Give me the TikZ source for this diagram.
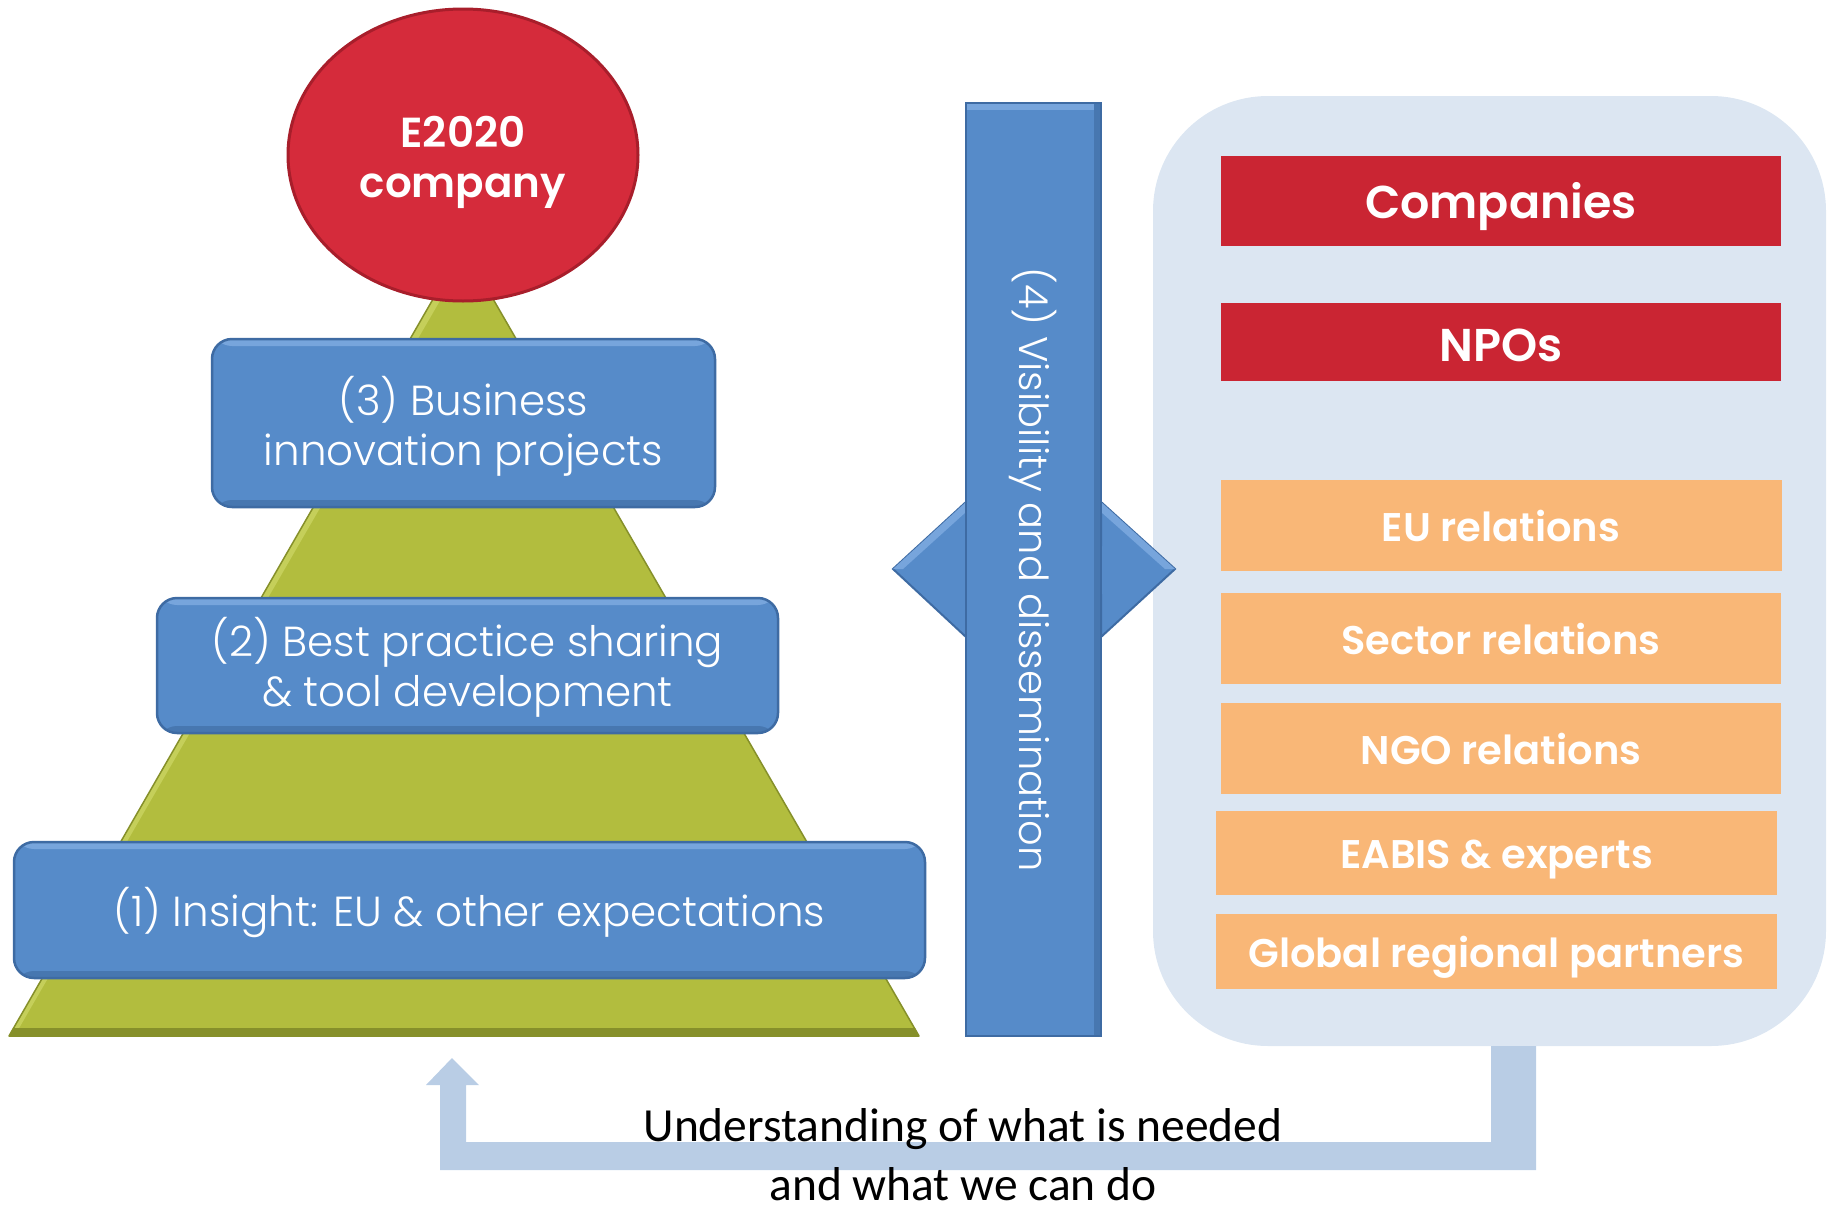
\documentclass[tikz,border=0pt]{standalone}
\usepackage{fontspec}
\setmainfont{Carlito}
\newfontfamily\gothl{Poppins Light}
\newfontfamily\gothb{Poppins}[UprightFont=* SemiBold]
\usetikzlibrary{shapes.geometric}
\definecolor{boxblue}{HTML}{568BC9}
\definecolor{boxblueD}{HTML}{3E6BA3}
\definecolor{boxblueL}{HTML}{77A5DC}
\definecolor{boxblueS}{HTML}{4777B0}
\definecolor{pyrgreen}{HTML}{B2BD3E}
\definecolor{pyrgreenD}{HTML}{86902A}
\definecolor{pyrgreenL}{HTML}{C5CF5A}
\definecolor{ellred}{HTML}{D52B3B}
\definecolor{ellredD}{HTML}{A81E2B}
\definecolor{panelblue}{HTML}{DCE6F2}
\definecolor{darkred}{HTML}{CA2533}
\definecolor{orangebox}{HTML}{F9B777}
\definecolor{arrowblue}{HTML}{B9CDE5}
\tikzset{
  bevel/.style={path picture={
    \fill[boxblueL] (path picture bounding box.north west) rectangle ([yshift=-7pt]path picture bounding box.north east);
    \fill[boxblueS] (path picture bounding box.south west) rectangle ([yshift=7pt]path picture bounding box.south east);}},
  bluebox/.style={rounded corners=20pt, fill=boxblue, draw=boxblueD, line width=2.5pt, bevel, inner sep=0pt},
  bluetext/.style={text=white, align=center, inner sep=0pt, font=\gothl\fontsize{42}{50}\selectfont},
  redbox/.style={fill=darkred, inner sep=0pt},
  redtext/.style={text=white, inner sep=0pt, font=\gothb\fontsize{46}{52}\selectfont},
  orbox/.style={fill=orangebox, inner sep=0pt},
  ortext/.style={text=white, inner sep=0pt, font=\gothb\fontsize{40}{48}\selectfont},
}
\begin{document}
\begin{tikzpicture}[x=1pt,y=-1pt]
\useasboundingbox (0,0) rectangle (1829,1210);
% pyramid
\fill[pyrgreen] (9,1036) -- (463,247) -- (919,1036) -- cycle;
\fill[pyrgreenL] (9,1036) -- (463,247) -- (467,254) -- (18,1030) -- cycle;
\fill[pyrgreenD] (9,1036) -- (919,1036) -- (915,1028) -- (13,1028) -- cycle;
\draw[pyrgreenD, line width=1.5pt, line join=round] (9,1036) -- (463,247) -- (919,1036) -- cycle;
% ellipse
\node[ellipse, fill=ellred, draw=ellredD, line width=3pt, minimum width=350pt, minimum height=292pt, inner sep=0pt] (e2020) at (463,155) {};
\node[text=white, align=center, inner sep=0pt, font=\gothb\fontsize{42}{50}\selectfont] (e2020t) at ([yshift=-7pt]e2020.center) {E2020\\company};
% blue boxes
\node[bluebox, minimum width=503pt, minimum height=168pt] (b3) at (463.5,423) {};
\node[bluetext] (b3t) at ([yshift=-3pt]b3.center) {(3) Business\\innovation projects};
\node[bluebox, minimum width=621pt, minimum height=135pt] (b2) at (467.5,665.5) {};
\node[bluetext] (b2t) at ([yshift=-2pt]b2.center) {(2) Best practice sharing\\\& tool development};
\node[bluebox, minimum width=911pt, minimum height=136pt] (b1) at (469.5,910) {};
\node[bluetext] (b1t) at ([yshift=-3pt]b1.center) {(1) Insight: EU \& other expectations};
% panel
\node[fill=panelblue, rounded corners=115pt, minimum width=673pt, minimum height=950pt, inner sep=0pt] (panel) at (1489.5,571) {};
% double arrow behind bar
\filldraw[fill=boxblue, draw=boxblueD, line width=2pt, line join=miter]
  (893,569) -- (966,502) -- (966,545) -- (1101,545) -- (1101,502) -- (1175,569)
  -- (1101,637) -- (1101,595) -- (966,595) -- (966,637) -- cycle;
\fill[boxblueL] (893,569) -- (966,502) -- (966,512) -- (903,569) -- cycle;
\fill[boxblueL] (1101,502) -- (1175,569) -- (1165,569) -- (1101,512) -- cycle;
% vertical bar
\node[fill=boxblue, draw=boxblueD, line width=2.5pt, minimum width=135pt, minimum height=933pt, inner sep=0pt,
  path picture={
    \fill[boxblueL] (path picture bounding box.north west) rectangle ([yshift=-7pt]path picture bounding box.north east);
    \fill[boxblueS] (path picture bounding box.north east) rectangle ([xshift=-7pt]path picture bounding box.south east);}] (bar) at (1033.5,569.5) {};
\node[rotate=-90, text=white, font=\gothl\fontsize{40}{48}\selectfont] (vis) at (bar.center) {(4) Visibility and dissemination};
% right boxes
\node[redbox, minimum width=560pt, minimum height=90pt] (comp) at (1501,201) {};
\node[redtext] (compt) at ([yshift=-6pt]comp.center) {Companies};
\node[redbox, minimum width=560pt, minimum height=78pt] (npo) at (1501,342) {};
\node[redtext] (npot) at ([yshift=-3pt]npo.center) {NPOs};
\node[orbox, minimum width=561pt, minimum height=91pt] (eu) at (1501,525.5) {};
\node[ortext] (eut) at (eu.center) {EU relations};
\node[orbox, minimum width=560pt, minimum height=91pt] (sec) at (1501,638.5) {};
\node[ortext] (sect) at (sec.center) {Sector relations};
\node[orbox, minimum width=560pt, minimum height=91pt] (ngo) at (1501,748.5) {};
\node[ortext] (ngot) at (ngo.center) {NGO relations};
\node[orbox, minimum width=561pt, minimum height=84pt] (eabis) at (1496.5,853) {};
\node[ortext] (eabist) at ([yshift=-7pt]eabis.center) {EABIS \& experts};
\node[orbox, minimum width=561pt, minimum height=75pt] (glob) at (1496.5,951.5) {};
\node[ortext] (globt) at ([yshift=-6pt]glob.center) {Global regional partners};
% feedback arrow
\fill[arrowblue] (452,1058) -- (479,1085) -- (466,1085) -- (466,1142) -- (1491,1142) -- (1491,1046)
  -- (1536,1046) -- (1536,1170) -- (440,1170) -- (440,1085) -- (426,1085) -- cycle;
\node[anchor=base, font=\fontsize{47.5}{59}\selectfont] (t1) at (963,1141) {Understanding of what is needed};
\node[anchor=base, font=\fontsize{47.5}{59}\selectfont] (t2) at (963,1200) {and what we can do};
\end{tikzpicture}
\end{document}
